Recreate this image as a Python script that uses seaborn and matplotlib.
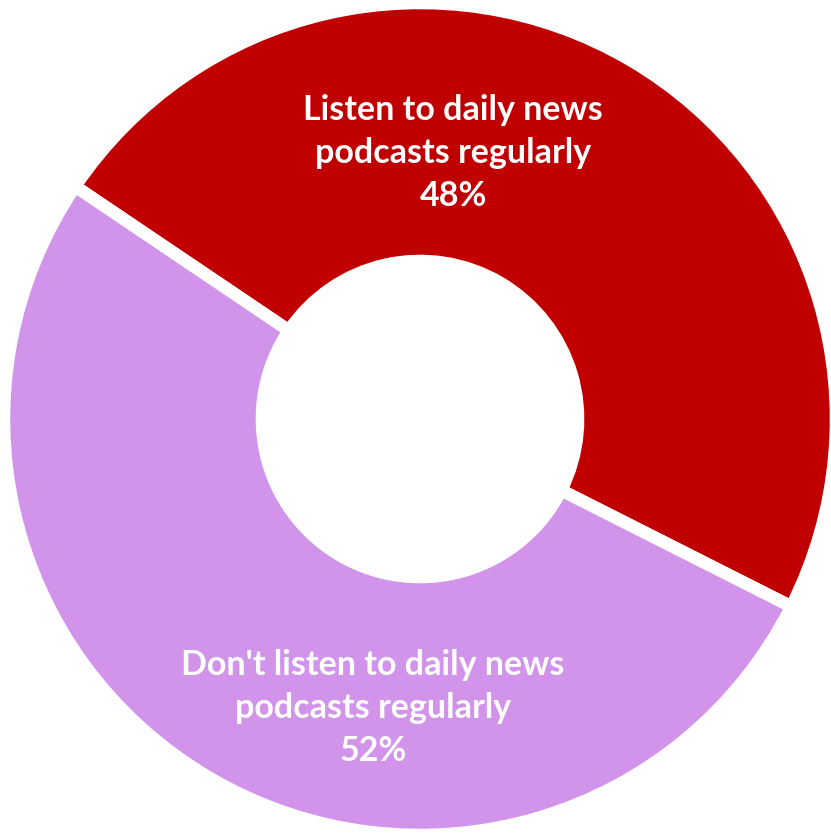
import matplotlib
matplotlib.use("Agg")
import matplotlib.pyplot as plt
import seaborn as sns

# data
categories = ["Listen to daily news\npodcasts regularly", "Don't listen to daily news\npodcasts regularly"]
shares = [48, 52]
colors = ["#C00000", "#D194EA"]

sns.set_style("white")
plt.rcParams['font.family'] = ['Lato', 'DejaVu Sans']

fig = plt.figure(figsize=(8.31, 8.34), dpi=100)
ax = fig.add_axes([0, 0, 1, 1])

px = 416.0  # pixels per data unit
cx, cy = 420.0, 419.0
ax.pie(shares, colors=colors, startangle=146, counterclock=False, radius=1,
       wedgeprops=dict(width=0.62, edgecolor='white', linewidth=9))

ax.set_xlim(-cx / px, (831 - cx) / px)
ax.set_ylim(-(834 - cy) / px, cy / px)
ax.set_aspect('auto')
ax.axis('off')

# label positions (layout only)
label_pos = [(0.08, 0.64), (-0.113, -0.695)]
for (x, y), cat, v in zip(label_pos, categories, shares):
    ax.text(x, y, f"{cat}\n{v}%", ha='center', va='center', color='white',
            fontsize=24.5, fontweight='bold', linespacing=1.42)

fig.savefig("out.png", dpi=100)
